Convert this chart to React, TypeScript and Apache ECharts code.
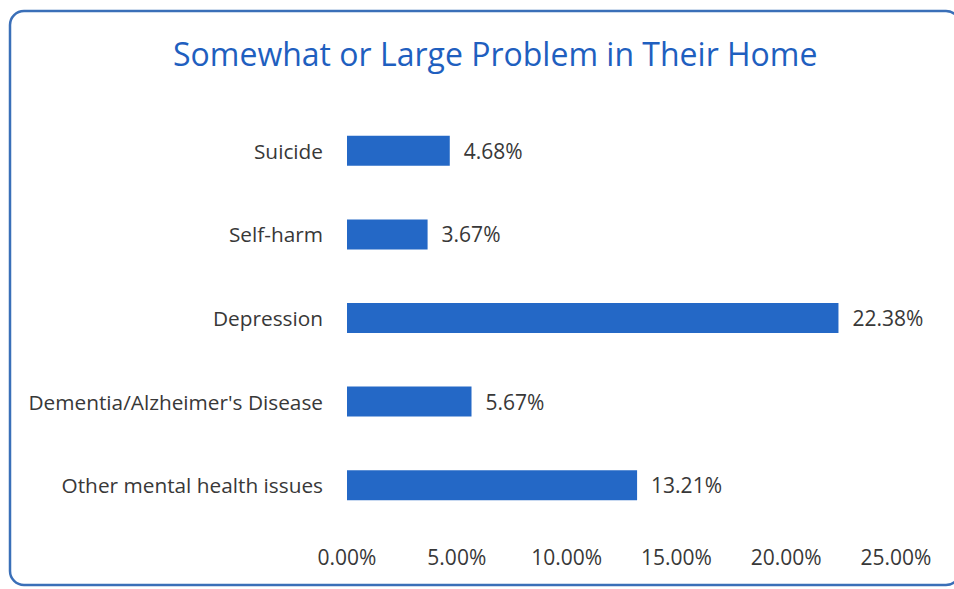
import React, { useEffect, useRef } from "react";
import * as echarts from "echarts";

const categories = [
  "Suicide",
  "Self-harm",
  "Depression",
  "Dementia/Alzheimer's Disease",
  "Other mental health issues",
];
const values = [4.68, 3.67, 22.38, 5.67, 13.21];
const axisMin = 0;
const axisMax = 25;
const axisStep = 5;
const title = "Somewhat or Large Problem in Their Home";

export default function App() {
  const ref = useRef<HTMLDivElement>(null);
  useEffect(() => {
    if (!ref.current) return;
    const chart = echarts.init(ref.current, null, { renderer: "svg" });
    const font = "'Open Sans', 'Noto Sans', sans-serif";
    chart.setOption({
      animation: false,
      backgroundColor: "#ffffff",
      title: {
        text: title,
        left: 168,
        top: 32,
        textStyle: {
          color: "#1f5fbf",
          fontSize: 32,
          fontWeight: "normal",
          fontFamily: font,
        },
      },
      graphic: [
        {
          type: "rect",
          shape: { x: 10, y: 11, width: 950, height: 574, r: 14 },
          style: { fill: "none", stroke: "#3a6fb8", lineWidth: 2.5 },
          silent: true,
        },
      ],
      grid: { left: 347, right: 58, top: 109, bottom: 62, containLabel: false },
      xAxis: {
        type: "value",
        min: axisMin,
        max: axisMax,
        interval: axisStep,
        axisLine: { show: false },
        axisTick: { show: false },
        splitLine: { show: false },
        axisLabel: {
          margin: 19,
          color: "#383838",
          fontSize: 21,
          fontFamily: font,
          formatter: (v: number) => v.toFixed(2) + "%",
        },
      },
      yAxis: {
        type: "category",
        data: categories,
        inverse: true,
        axisLine: { show: false },
        axisTick: { show: false },
        axisLabel: {
          margin: 24,
          color: "#383838",
          fontSize: 20.8,
          fontFamily: font,
        },
      },
      series: [
        {
          type: "bar",
          data: values,
          barWidth: 30,
          itemStyle: { color: "#2468c6" },
          label: {
            show: true,
            position: "right",
            distance: 14,
            color: "#383838",
            fontSize: 21,
            fontFamily: font,
            formatter: (p: any) => Number(p.value).toFixed(2) + "%",
          },
        },
      ],
    });
    return () => chart.dispose();
  }, []);
  return (
    <div
      ref={ref}
      style={{ position: "fixed", left: 0, top: 0, width: 954, height: 589 }}
    />
  );
}
